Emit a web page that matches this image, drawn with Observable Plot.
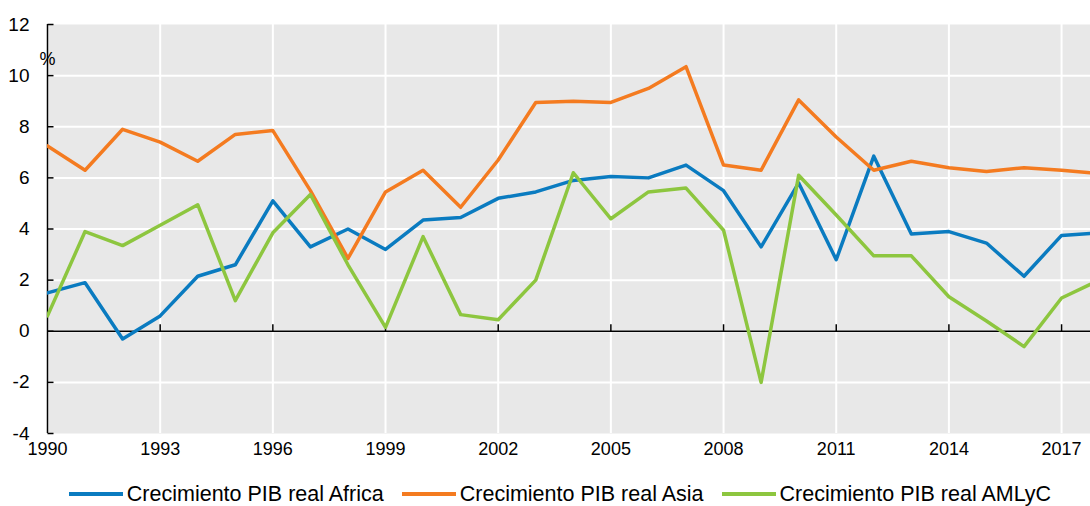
<!DOCTYPE html>
<html><head><meta charset="utf-8">
<script src="https://cdn.jsdelivr.net/npm/d3@7"></script>
<script src="https://cdn.jsdelivr.net/npm/@observablehq/plot@0.6"></script>
<style>
html,body{margin:0;padding:0;background:#fff;overflow:hidden;width:1090px;height:506px;}
#chart svg{display:block;}
#legend{display:flex;justify-content:center;align-items:center;gap:18px;margin-top:17px;height:24px;padding-left:30px;
  font-family:'Liberation Sans',Arial,sans-serif;font-size:21.5px;color:#000;white-space:nowrap;}
#legend .item{display:flex;align-items:center;}
#legend .sw{width:54px;height:4px;margin-right:4px;}
</style></head><body>
<div id="chart"></div>
<div id="legend"></div>
<script>
const years = [1990,1991,1992,1993,1994,1995,1996,1997,1998,1999,2000,2001,2002,2003,2004,2005,2006,2007,2008,2009,2010,2011,2012,2013,2014,2015,2016,2017,2018];
const africa = [1.5,1.9,-0.3,0.6,2.15,2.6,5.1,3.3,4.0,3.2,4.35,4.45,5.2,5.45,5.9,6.05,6.0,6.5,5.5,3.3,5.8,2.8,6.85,3.8,3.9,3.45,2.15,3.75,3.85];
const asia = [7.25,6.3,7.9,7.4,6.65,7.7,7.85,5.5,2.85,5.45,6.3,4.85,6.7,8.95,9.0,8.95,9.5,10.35,6.5,6.3,9.05,7.6,6.3,6.65,6.4,6.25,6.4,6.3,6.17];
const amlyc = [0.6,3.9,3.35,4.15,4.95,1.2,3.85,5.35,2.6,0.15,3.7,0.65,0.45,2.0,6.2,4.4,5.45,5.6,3.95,-2.0,6.1,4.55,2.95,2.95,1.35,0.4,-0.6,1.3,2.0];
const seriesNames = ["Crecimiento PIB real Africa","Crecimiento PIB real Asia","Crecimiento PIB real AMLyC"];
const seriesColors = ["#0a7bc0","#f47b20","#8dc63f"];
const xTicks = [1990,1993,1996,1999,2002,2005,2008,2011,2014,2017];
const yTicks = [-4,-2,0,2,4,6,8,10,12];
const unitLabel = "%";

const rows = [];
[africa, asia, amlyc].forEach((vals, s) => vals.forEach((v, i) => rows.push({year: years[i], value: v, series: seriesNames[s]})));

const vTick = {draw(ctx){ctx.moveTo(0,0); ctx.lineTo(0,-7);}};
const hTick = {draw(ctx){ctx.moveTo(0,0); ctx.lineTo(6,0);}};

const chart = Plot.plot({
  width: 1090, height: 465,
  marginLeft: 47, marginRight: 0, marginTop: 24, marginBottom: 32,
  x: {domain: [1990, 2017.77], label: null},
  y: {domain: [-4, 12], label: null},
  color: {domain: seriesNames, range: seriesColors},
  style: {fontFamily: "'Liberation Sans',Arial,sans-serif", fontSize: "18px", color: "#000", background: "transparent"},
  marks: [
    Plot.frame({fill: "#e8e8e8", stroke: null}),
    Plot.ruleY(yTicks.filter(d => d > yTicks[0] && d < yTicks[yTicks.length-1]), {stroke: "#fff", strokeWidth: 2}),
    Plot.ruleX(xTicks, {stroke: "#fff", strokeWidth: 2}),
    Plot.ruleY([0], {stroke: "#000", strokeWidth: 1.5}),
    Plot.dot(xTicks.slice(1), {x: d => d, y: () => 0, symbol: vTick, stroke: "#000", fill: "none", strokeWidth: 1.5}),
    Plot.ruleX([xTicks[0]], {stroke: "#000", strokeWidth: 1.5}),
    Plot.dot(yTicks, {x: () => xTicks[0], y: d => d, symbol: hTick, stroke: "#000", fill: "none", strokeWidth: 1.5}),
    Plot.line(rows, {x: "year", y: "value", z: "series", stroke: "series", strokeWidth: 3.5, clip: true}),
    Plot.axisX(xTicks, {tickSize: 0, tickPadding: 9, tickFormat: d => String(d), label: null}),
    Plot.axisY(yTicks, {tickSize: 0, tickPadding: 18, tickFormat: d => String(d), label: null, fontSize: 19}),
    Plot.text([unitLabel], {x: () => xTicks[0], y: () => yTicks[yTicks.length-2], dy: -16, fontSize: 18})
  ]
});
document.getElementById("chart").appendChild(chart);

const legend = document.getElementById("legend");
seriesNames.forEach((name, i) => {
  const item = document.createElement("div");
  item.className = "item";
  const sw = document.createElement("span");
  sw.className = "sw";
  sw.style.background = seriesColors[i];
  const label = document.createElement("span");
  label.textContent = name;
  item.appendChild(sw); item.appendChild(label);
  legend.appendChild(item);
});
</script>
</body></html>
